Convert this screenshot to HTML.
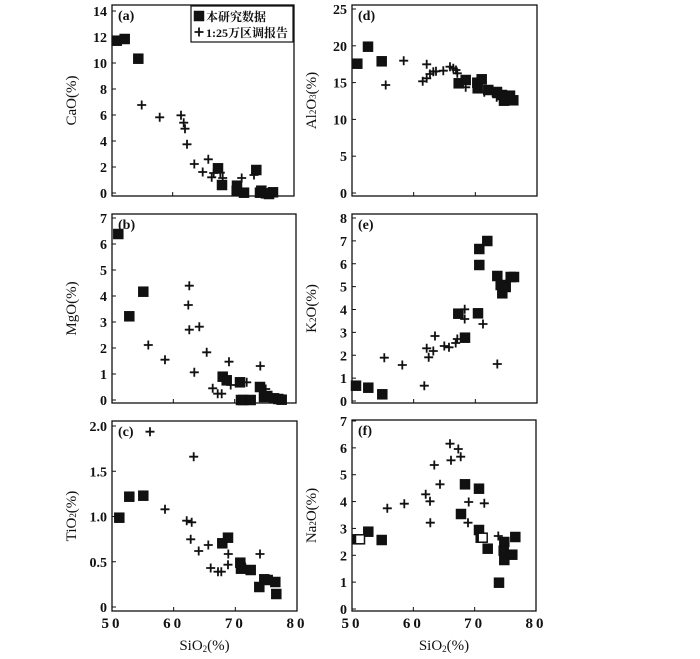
<!DOCTYPE html>
<html><head><meta charset="utf-8"><style>
body{margin:0;background:#fff}
svg{display:block}
text{font-family:"Liberation Serif","Noto Serif CJK SC",serif;fill:#111}
</style></head><body>
<svg id="s" width="700" height="659" viewBox="0 0 700 659" xmlns="http://www.w3.org/2000/svg"></svg>
<script>
var s=document.getElementById('s'),h='';
function sq(x,y,o){h+='<rect x="'+(x-4.5)+'" y="'+(y-4.5)+'" width="9" height="9" fill="'+(o?'#fff':'#111')+'" stroke="#111" stroke-width="1.5"/>';}
function pl(x,y){h+='<path d="M'+(x-4.5)+' '+y+'h9M'+x+' '+(y-4.5)+'v9" stroke="#111" stroke-width="1.8"/>';}
function panel(x0,x1,t,b,y0,yT,ticks,lab,tag,xl){
 h+='<rect x="'+x0+'" y="'+t+'" width="'+(x1-x0)+'" height="'+(b-t)+'" fill="none" stroke="#111" stroke-width="1.3"/>';
 var n=ticks.length-1;
 ticks.forEach(function(v,i){var y=y0+(yT-y0)*i/n;
  h+='<line x1="'+x0+'" x2="'+(x0+4)+'" y1="'+y+'" y2="'+y+'" stroke="#111"/>';
  h+='<text x="'+(x0-5)+'" y="'+(y+5)+'" text-anchor="end" font-size="14" font-weight="bold">'+v+'</text>';});
 for(var k=1;k<3;k++){var x=x0+(x1-x0)*k/3;h+='<line x1="'+x+'" x2="'+x+'" y1="'+b+'" y2="'+(b-4)+'" stroke="#111"/>';}
 var cy=(t+b)/2;
 h+='<text transform="translate('+(x0-36)+','+cy+') rotate(-90)" text-anchor="middle" font-size="15">'+lab+'</text>';
 h+='<text x="'+(x0+6)+'" y="'+(t+15)+'" font-size="14" font-weight="bold">'+tag+'</text>';
 if(xl){['50','60','70','80'].forEach(function(v,i){var x=x0+(x1-x0)*i/3;
  h+='<text x="'+x+'" y="'+(b+17)+'" text-anchor="middle" font-size="15" font-weight="bold" letter-spacing="3">'+v+'</text>';});
  h+='<text x="'+((x0+x1)/2)+'" y="'+(b+39)+'" text-anchor="middle" font-size="15">SiO<tspan font-size="9" dy="2">2</tspan><tspan dy="-2">(%)</tspan></text>';}
}
panel(112,294,5,196,193,11,[0,2,4,6,8,10,12,14],'CaO(%)','(a)');
panel(112,296,214,403,400,218,[0,1,2,3,4,5,6,7],'MgO(%)','(b)');
panel(112,297,421,611,607,426,['0','0.5','1.0','1.5','2.0'],'TiO<tspan font-size="9">2</tspan>(%)','(c)',1);
panel(352,537,5,196,193,9,[0,5,10,15,20,25],'Al<tspan font-size="9">2</tspan>O<tspan font-size="9">3</tspan>(%)','(d)');
panel(352,537,214,403,401,218,[0,1,2,3,4,5,6,7,8],'K<tspan font-size="9">2</tspan>O(%)','(e)');
panel(352,536,420,611,609,421,[0,1,2,3,4,5,6,7],'Na<tspan font-size="9">2</tspan>O(%)','(f)',1);
h+='<rect x="191" y="6" width="102" height="36" fill="#fff" stroke="#111" stroke-width="1.2"/>';
sq(199,16);h+='<text x="206" y="21" font-size="12" font-weight="bold">本研究数据</text>';
pl(199,32);h+='<text x="206" y="37" font-size="12" font-weight="bold">1:25万区调报告</text>';
var S=[
[116.7,40.7],[124.7,39],[138.3,58.7],[218,168.3],[222,185],[236.7,190.7],[237,185.7],[244,192.7],[256.3,170],[260,192.7],[261.3,190.7],[266,193.3],[269,194],[273,192.3],
[118.3,234],[129.3,316.3],[143.3,291.7],[222.7,376.7],[226.7,380.3],[240,382.3],[241,400],[243.3,400],[250.7,400],[260,387],[264,397],[267.3,396],[274,398.3],[278.3,399],[281.7,399.7],
[119.3,517.7],[129.3,496.7],[143.3,495.7],[222.3,543.3],[228,537.7],[240.3,562.7],[241,568.7],[250.7,570],[259.3,587],[264.3,579.3],[267.7,580],[275.3,582],[276.3,594],
[357.3,63.7],[368,46.7],[381.7,61.3],[458.7,83.3],[465.7,80],[477.3,82.7],[481.7,79.3],[477.7,88.3],[488.3,90],[497,92],[502,95],[504,100.7],[510,95.7],[513.3,100.3],
[356,385.7],[368.3,387.7],[382.3,394.3],[458.3,313.7],[465,337.7],[478,313.3],[479.3,249],[479.3,265],[487.3,241],[497.3,276],[500.7,285],[502.3,293.3],[505.7,287],[510.7,277],[514,277],
[357,539.3],[368.3,531.7],[381.7,540],[461,514],[465,484.3],[479,488.7],[479,530],[480.7,537.7],[487.7,548.7],[504.3,542],[503.7,550.7],[504.3,560],[512.3,554.7],[515.3,537],[499,582.7]];
var P=[
[141.7,105],[159.7,117.3],[181,115.3],[183.7,122.7],[185,128.7],[187,144.3],[194.3,164],[202.7,172],[208.3,159.3],[211.7,177.3],[213.7,173],[220.3,172.7],[222.7,178],[241.7,178],[254,175],
[189.3,285.7],[188.3,305],[189.3,329.7],[199.3,326.7],[148.3,345],[165,359.7],[194.3,372.3],[206.7,352.3],[212.7,388.3],[217.7,393.7],[221.7,393.7],[229,361.7],[230.7,385],[246.7,382.3],[260.3,366],[265.7,389],
[150,431.7],[193.7,456.7],[165,509.3],[186.7,520.7],[191.7,522.3],[190.7,539.3],[198.7,551],[208.3,545],[210.7,568],[218,571.7],[221.3,571.7],[228.3,554],[228,564.7],[245,566.7],[260,554],
[385.7,85],[403.7,60.7],[422.7,81.3],[426.7,64.3],[426.7,78.3],[430,74],[433.3,71.7],[436,71.3],[443.3,70.7],[450,66.7],[453.3,68.3],[456,70],[457.3,73.3],[465.7,87.3],[484.3,92.3],[496.7,97.3],
[384.3,357.7],[402.3,365],[424.3,385.7],[426.7,348.3],[428.7,357.3],[433.3,351],[435,336],[444.3,346],[449,347.3],[455.7,343],[457.3,339],[464.7,309.3],[464.7,319],[483,324],[497.3,364],
[387.3,508.3],[404.3,503.7],[425.7,494.3],[430,501.3],[430.3,522.7],[434.3,465],[440,484.3],[450,443.7],[451,460.3],[458.3,449],[460.7,456.7],[468.7,502],[468,522.7],[484.3,503.3],[498.3,536]];
S.forEach(function(p){sq(p[0],p[1]);});
sq(360,539.3,1);sq(482.7,537.7,1);
P.forEach(function(p){pl(p[0],p[1]);});
s.innerHTML=h;
</script>
</body></html>
